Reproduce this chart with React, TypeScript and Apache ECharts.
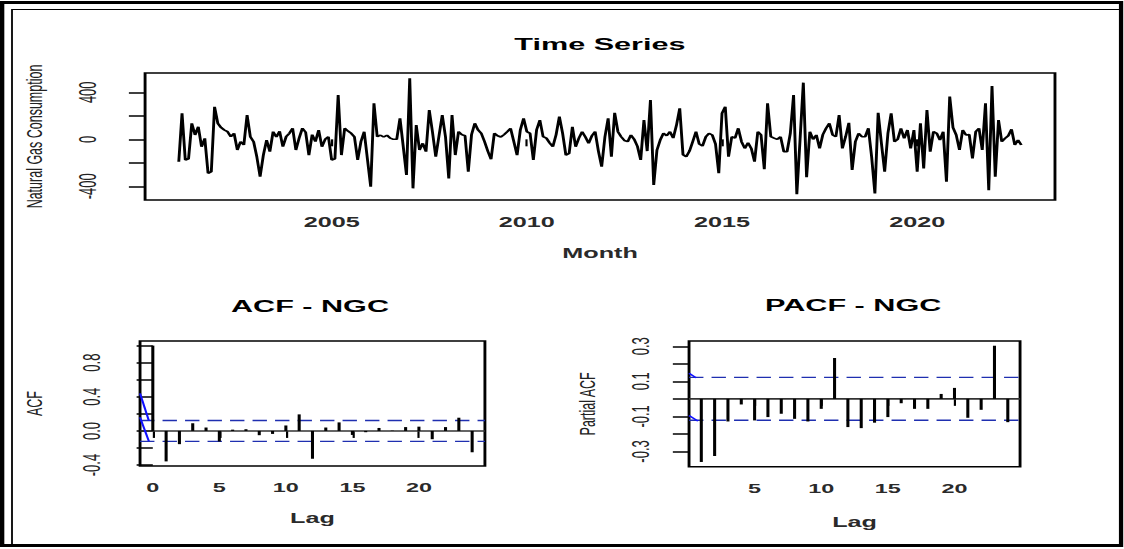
import { useEffect, useRef } from "react";
import * as echarts from "echarts";

// The reference is an R plot that was stretched horizontally; we draw in a
// narrower canvas and stretch it with a CSS transform to reproduce the look.
const STRETCH = 1.8;
const PAGE_W = 1124;
const PAGE_H = 549;
const W = PAGE_W / STRETCH;
const FONT = '"Liberation Sans", Arial, Helvetica, sans-serif';

// ---- Time series (differenced natural gas consumption), monthly from Feb 2001
const startYear = 2001;
const startMonth = 2;
const ngcDiff = [
  -190, 221, -176, -165, 136, 37, 107, -63, 8, -289,
  -275, 277, 136, 100, 79, 65, 22, 51, -91, -20,
  -48, 207, 22, -20, -150, -318, -134, -6, -105, 65,
  20, 68, -63, 22, 51, 94, -91, 10, 94, 60,
  -134, 40, -20, 79, -63, 0, 22, -176, -165, 377,
  -134, 94, 70, 51, 20, -176, -20, 65, -170, -403,
  306, 22, 35, 20, 35, 10, 0, 0, 179, -60,
  -303, 519, -417, 122, -91, -34, -105, 249, 60, -148,
  30, 207, 20, -332, 207, -134, 65, 40, 30, -275,
  40, 136, 80, 51, -20, -100, -170, 51, 30, 20,
  40, 65, 94, -20, -134, 80, 179, 65, 50, -176,
  80, 164, 22, 10, -30, -63, 40, 193, 51, -134,
  -120, 107, -63, 10, 65, 20, -34, 30, 65, -100,
  -233, 20, 179, -148, 226, 65, 22, -10, -20, 37,
  0, -60, -176, 164, -100, 334, -389, -91, -6, 51,
  30, 65, 10, 120, 264, -130, -148, -100, -20, 65,
  -40, -57, 20, 51, 37, -40, -289, 221, 277, -148,
  22, 10, 94, -20, -77, -30, -77, -190, 65, 37,
  -255, 306, 22, 10, 0, 22, -105, -105, 50, 377,
  -466, 0, 482, -323, 65, 0, 37, -77, 40, 94,
  136, 37, 22, 207, -77, 22, 141, -261, -20, 51,
  22, 22, 94, -150, -460, 226, -34, -275, 50, 221,
  -20, 0, 94, 8, 79, -77, 79, -275, 136, -247,
  249, -105, 65, 51, -6, 65, -361, 363, 100, 37,
  -91, 79, 37, 40, -162, 65, 94, -91, 306, -432,
  454, -318, 164, -20, 8, 30, 85, -48, -6, -48,
];
const yearTicks = [2005, 2010, 2015, 2020];
const ngcTicks = [-400, -200, 0, 200, 400];
const ngcLabels = [-400, 0, 400];

// ---- ACF
const acfLags = [0, 1, 2, 3, 4, 5, 6, 7, 8, 9, 10, 11, 12, 13, 14, 15, 16, 17, 18, 19, 20, 21, 22, 23, 24];
const acfValues = [
  1.0, -0.357, -0.155, 0.09, 0.04, -0.124, 0.015, 0.02, -0.05, -0.035,
  0.064, 0.194, -0.326, 0.04, 0.1, -0.047, -0.015, 0.035, 0.004, 0.045,
  0.05, -0.097, 0.045, 0.155, -0.25,
];
const acfTicks = [-0.4, -0.2, 0, 0.2, 0.4, 0.6, 0.8, 1.0];
const acfLabels = [-0.4, 0, 0.4, 0.8];
const acfLagTicks = [0, 5, 10, 15, 20];

// ---- PACF
const pacfLags = [1, 2, 3, 4, 5, 6, 7, 8, 9, 10, 11, 12, 13, 14, 15, 16, 17, 18, 19, 20, 21, 22, 23, 24];
const pacfValues = [
  -0.36, -0.326, -0.129, -0.032, -0.123, -0.104, -0.085, -0.114, -0.129, -0.057,
  0.233, -0.161, -0.167, -0.136, -0.104, -0.025, -0.057, -0.057, 0.028, 0.0625,
  -0.108, -0.0625, 0.303, -0.133,
];
const pacfTicks = [-0.3, -0.2, -0.1, 0, 0.1, 0.2, 0.3];
const pacfLabels = [-0.3, -0.1, 0.1, 0.3];
const pacfLagTicks = [5, 10, 15, 20];

const ciBound = 0.122;

// axis limits
const tsX = [2000.22, 2023.53];
const tsY = [-516, 564];
const acfX = [-0.96, 24.96];
const acfY = [-0.411, 1.054];
const pacfX = [0.08, 24.92];
const pacfY = [-0.387, 0.33];

const BLUE = "#1f2fb0";

function xAxis(grid: number, range: number[], ticks: number[], nameGap: number, fontSize: number) {
  return {
    type: "value",
    gridIndex: grid,
    min: range[0],
    max: range[1],
    axisLine: { show: false },
    splitLine: { show: false },
    axisTick: { show: true, customValues: ticks, length: 7, lineStyle: { color: "#000", width: 1.2 } },
    axisLabel: {
      customValues: ticks,
      fontSize,
      fontWeight: "bold",
      color: "#2a2a2a",
      fontFamily: FONT,
      margin: 15,
      formatter: (v: number) => String(Math.round(v)),
    },
    name: "",
    nameGap,
  };
}

function yAxis(
  grid: number,
  range: number[],
  ticks: number[],
  labels: number[],
  name: string,
  nameGap: number,
  margin: number,
  fmt: (v: number) => string
) {
  return {
    type: "value",
    gridIndex: grid,
    min: range[0],
    max: range[1],
    axisLine: { show: false },
    splitLine: { show: false },
    axisTick: { show: true, customValues: ticks, length: 9, lineStyle: { color: "#000", width: 1.5 } },
    axisLabel: {
      customValues: labels,
      rotate: 90,
      fontSize: 13,
      color: "#222",
      fontFamily: FONT,
      margin,
      formatter: (v: number) => fmt(v),
    },
    name,
    nameLocation: "middle",
    nameRotate: 90,
    nameGap,
    nameTextStyle: { fontSize: 12.5, color: "#222", fontFamily: FONT },
  };
}

function hLine(xi: number, yi: number, range: number[], y: number, style: any) {
  return {
    type: "line",
    xAxisIndex: xi,
    yAxisIndex: yi,
    data: [
      [range[0], y],
      [range[1], y],
    ],
    symbol: "none",
    silent: true,
    lineStyle: style,
    z: 1,
  };
}

const axisNameStyle = { fontSize: 14, fontWeight: "bold", color: "#2a2a2a", fontFamily: FONT };

export default function App() {
  const ref = useRef<HTMLDivElement>(null);

  useEffect(() => {
    if (!ref.current) return;
    const chart = echarts.init(ref.current, undefined, { renderer: "svg" });

    const tsData = ngcDiff.map((v, i) => [startYear + (startMonth - 1 + i) / 12, v]);
    const acfData = acfLags.map((l, i) => [l, acfValues[i]]);
    const pacfData = pacfLags.map((l, i) => [l, pacfValues[i]]);

    const gridStyle = { show: true, borderColor: "#000", borderWidth: 1.6, backgroundColor: "transparent" };

    const option: any = {
      animation: false,
      backgroundColor: "#fff",
      grid: [
        { ...gridStyle, left: 80.6, top: 73, width: 505.5, height: 127 },
        { ...gridStyle, left: 77.8, top: 341, width: 191.6, height: 125 },
        { ...gridStyle, left: 382.8, top: 341, width: 183.9, height: 125.7 },
      ],
      xAxis: [
        { ...xAxis(0, tsX, yearTicks, 46, 14), name: "Month", nameLocation: "middle", nameTextStyle: axisNameStyle },
        { ...xAxis(1, acfX, acfLagTicks, 45, 13), name: "Lag", nameLocation: "middle", nameTextStyle: axisNameStyle },
        { ...xAxis(2, pacfX, pacfLagTicks, 48, 13), name: "Lag", nameLocation: "middle", nameTextStyle: axisNameStyle },
      ],
      yAxis: [
        yAxis(0, tsY, ngcTicks, ngcLabels, "Natural Gas Consumption", 55, 25, (v) => String(Math.round(v))),
        yAxis(1, acfY, acfTicks, acfLabels, "ACF", 52, 20, (v) => v.toFixed(1)),
        yAxis(2, pacfY, pacfTicks, pacfLabels, "Partial ACF", 50, 20, (v) => v.toFixed(1)),
      ],
      series: [
        {
          type: "line",
          xAxisIndex: 0,
          yAxisIndex: 0,
          data: tsData,
          symbol: "none",
          lineStyle: { color: "#000", width: 1.6 },
          z: 3,
        },
        hLine(1, 1, acfX, 0, { color: "#333", width: 1.6 }),
        hLine(1, 1, acfX, ciBound, { color: BLUE, width: 1.3, type: [8, 4.5] }),
        hLine(1, 1, acfX, -ciBound, { color: BLUE, width: 1.3, type: [8, 4.5] }),
        {
          type: "bar",
          xAxisIndex: 1,
          yAxisIndex: 1,
          data: acfData,
          barWidth: 1.7,
          itemStyle: { color: "#000" },
          z: 3,
        },
        {
          type: "line",
          xAxisIndex: 1,
          yAxisIndex: 1,
          data: [
            [acfX[0], 0.44],
            [-0.3, 0.12],
          ],
          symbol: "none",
          lineStyle: { color: "#1010ff", width: 1.2 },
        },
        {
          type: "line",
          xAxisIndex: 1,
          yAxisIndex: 1,
          data: [
            [acfX[0], 0.16],
            [-0.3, -0.12],
          ],
          symbol: "none",
          lineStyle: { color: "#1010ff", width: 1.2 },
        },
        hLine(2, 2, pacfX, 0, { color: "#333", width: 1.6 }),
        hLine(2, 2, pacfX, ciBound, { color: BLUE, width: 1.3, type: [8, 4.5] }),
        hLine(2, 2, pacfX, -ciBound, { color: BLUE, width: 1.3, type: [8, 4.5] }),
        {
          type: "bar",
          xAxisIndex: 2,
          yAxisIndex: 2,
          data: pacfData,
          barWidth: 1.7,
          itemStyle: { color: "#000" },
          z: 3,
        },
        {
          type: "line",
          xAxisIndex: 2,
          yAxisIndex: 2,
          data: [
            [pacfX[0], 0.146],
            [0.62, 0.12],
          ],
          symbol: "none",
          lineStyle: { color: "#1010ff", width: 1.2 },
        },
        {
          type: "line",
          xAxisIndex: 2,
          yAxisIndex: 2,
          data: [
            [pacfX[0], -0.095],
            [0.75, -0.127],
          ],
          symbol: "none",
          lineStyle: { color: "#1010ff", width: 1.2 },
        },
      ],
      graphic: [
        {
          type: "rect",
          shape: { x: 0.9, y: 2.5, width: 1120 / STRETCH, height: 543 },
          style: { fill: "none", stroke: "#000", lineWidth: 3 },
          silent: true,
        },
        {
          type: "rect",
          shape: { x: 12 / STRETCH, y: 9.5, width: (1121 - 12) / STRETCH, height: 535 },
          style: { fill: "none", stroke: "#000", lineWidth: 1 },
          silent: true,
        },
        {
          type: "text",
          x: 333.3,
          y: 44,
          style: { text: "Time Series", fontSize: 17, fontWeight: "bold", fontFamily: FONT, fill: "#000", align: "center", verticalAlign: "middle" },
        },
        {
          type: "text",
          x: 172.2,
          y: 306.5,
          style: { text: "ACF - NGC", fontSize: 17, fontWeight: "bold", fontFamily: FONT, fill: "#000", align: "center", verticalAlign: "middle" },
        },
        {
          type: "text",
          x: 474,
          y: 305,
          style: { text: "PACF - NGC", fontSize: 17, fontWeight: "bold", fontFamily: FONT, fill: "#000", align: "center", verticalAlign: "middle" },
        },
      ],
    };

    chart.setOption(option);
    return () => {
      chart.dispose();
    };
  }, []);

  return (
    <div
      ref={ref}
      style={{
        position: "absolute",
        left: 0,
        top: 0,
        width: `${W}px`,
        height: `${PAGE_H}px`,
        transform: `scaleX(${STRETCH})`,
        transformOrigin: "0 0",
        background: "#fff",
      }}
    />
  );
}
